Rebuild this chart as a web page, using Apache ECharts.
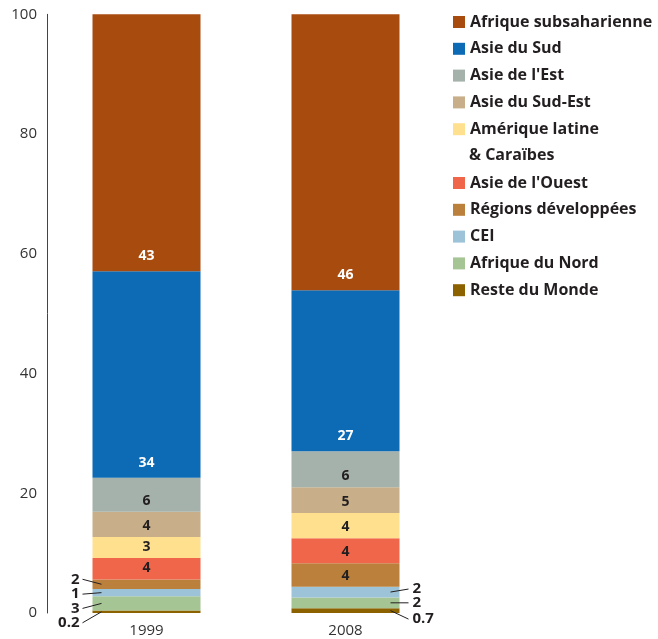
<!DOCTYPE html>
<html>
<head>
<meta charset="utf-8">
<script src="https://cdn.jsdelivr.net/npm/echarts@6/dist/echarts.min.js"></script>
<style>html,body{margin:0;padding:0;background:#fff}#c{width:658px;height:639px}</style>
</head>
<body>
<div id="c"></div>
<script>
// ---- data ----
const categories = ['1999', '2008'];
const seriesNames = ['Reste du Monde', 'Afrique du Nord', 'CEI', 'Régions développées', "Asie de l'Ouest",
  'Amérique latine & Caraïbes', 'Asie du Sud-Est', "Asie de l'Est", 'Asie du Sud', 'Afrique subsaharienne'];
const resteDuMonde     = [0.4, 0.8];
const afriqueDuNord    = [2.4, 1.8];
const cei              = [1.2, 1.8];
const regionsDev       = [1.6, 3.9];
const asieOuest        = [3.6, 4.2];
const ameriqueLatine   = [3.5, 4.2];
const asieSudEst       = [4.2, 4.3];
const asieEst          = [5.7, 6.0];
const asieSud          = [34.5, 26.9];
const afriqueSubsah    = [42.9, 46.1];
const labelsReste      = ['0.2', '0.7'];
const labelsAfrNord    = ['3', '2'];
const labelsCei        = ['1', '2'];
const labelsRegDev     = ['2', '4'];
const labelsOuest      = ['4', '4'];
const labelsAmerique   = ['3', '4'];
const labelsSudEst     = ['4', '5'];
const labelsEst        = ['6', '6'];
const labelsSud        = ['34', '27'];
const labelsSubsah     = ['43', '46'];
const yTicks = [0, 20, 40, 60, 80, 100];

const values = [resteDuMonde, afriqueDuNord, cei, regionsDev, asieOuest, ameriqueLatine, asieSudEst, asieEst, asieSud, afriqueSubsah];
const labels = [labelsReste, labelsAfrNord, labelsCei, labelsRegDev, labelsOuest, labelsAmerique, labelsSudEst, labelsEst, labelsSud, labelsSubsah];

// ---- styles ----
const colors = ['#8C6200', '#A6C594', '#9DC3D9', '#BA803C', '#F0664A', '#FEE08E', '#C8AF8A', '#A5B2AB', '#0D6AB5', '#A84B0F'];
const FONT = 'Open Sans';
const DARK = '#231f20';
// external labels: [seriesIndex, catIndex, side, dy]
const external = [
  [3, 0, 'left', -5], [2, 0, 'left', 1.5], [1, 0, 'left', 5], [0, 0, 'left', 11],
  [2, 1, 'right', -3], [1, 1, 'right', 0], [0, 1, 'right', 8.5]
];
function extFor(s, c) { return external.find(e => e[0] === s && e[1] === c); }

const series = values.map((vals, s) => ({
  name: seriesNames[s],
  type: 'bar',
  stack: 'total',
  barWidth: 108,
  itemStyle: { color: colors[s] },
  data: vals.map((v, c) => {
    const ext = extFor(s, c);
    const big = s >= 8;
    const lbl = ext ? {
      show: true, position: ext[2], distance: 13, offset: [0, ext[3]],
      formatter: labels[s][c], color: DARK, fontWeight: 'bold', fontSize: 15, fontFamily: FONT
    } : {
      show: true, position: 'insideBottom', distance: big ? 8 : 4,
      formatter: labels[s][c], color: big ? '#fff' : DARK, fontWeight: 'bold', fontSize: 14, fontFamily: FONT
    };
    return { value: v, label: lbl };
  })
}));

const legendText = { color: DARK, fontSize: 16, fontWeight: 'bold', fontFamily: FONT, lineHeight: 20 };
const chart = echarts.init(document.getElementById('c'), null, { renderer: 'canvas' });
chart.setOption({
  animation: false,
  grid: { left: 47, right: 213, top: 14.3, bottom: 26, containLabel: false },
  xAxis: {
    type: 'category', data: categories,
    axisLine: { show: false }, axisTick: { show: false },
    axisLabel: { color: '#333', fontSize: 15, fontFamily: FONT, margin: 10 }
  },
  yAxis: {
    type: 'value', min: yTicks[0], max: yTicks[yTicks.length - 1], interval: 20,
    axisLine: { show: true, lineStyle: { color: '#444', width: 1 } },
    axisTick: { show: false }, splitLine: { show: false },
    axisLabel: { color: '#333', fontSize: 15, fontFamily: FONT, margin: 10 }
  },
  legend: [{
    orient: 'vertical', left: 448, top: 7, itemWidth: 12, itemHeight: 12, itemGap: 6.8, icon: 'rect',
    data: ['Afrique subsaharienne', 'Asie du Sud', "Asie de l'Est", 'Asie du Sud-Est', 'Amérique latine & Caraïbes'],
    formatter: n => n === 'Amérique latine & Caraïbes' ? 'Amérique latine' : n,
    textStyle: legendText, selectedMode: false
  }, {
    orient: 'vertical', left: 448, top: 168, itemWidth: 12, itemHeight: 12, itemGap: 6.8, icon: 'rect',
    data: ["Asie de l'Ouest", 'Régions développées', 'CEI', 'Afrique du Nord', 'Reste du Monde'],
    textStyle: legendText, selectedMode: false
  }],
  series: series
});

// leader lines for external labels
const lines = external.map(([s, c, side, dy]) => {
  let base = 0;
  for (let k = 0; k < s; k++) base += values[k][c];
  const mid = base + values[s][c] / 2;
  const p = chart.convertToPixel({ gridIndex: 0 }, [c, mid]);
  const xc = p[0], ySeg = p[1];
  const shape = side === 'left'
    ? { x1: xc - 64, y1: ySeg + dy, x2: xc - 45, y2: ySeg }
    : { x1: xc + 45, y1: ySeg, x2: xc + 63, y2: ySeg + dy };
  return { type: 'line', shape: shape, style: { stroke: DARK, lineWidth: 1 }, z: 100 };
});
chart.setOption({
  graphic: [{
    type: 'text', left: 469, top: 147,
    style: { text: '& Caraïbes', fill: DARK, font: 'bold 16px "' + FONT + '"' }
  }].concat(lines)
});
</script>
</body>
</html>
